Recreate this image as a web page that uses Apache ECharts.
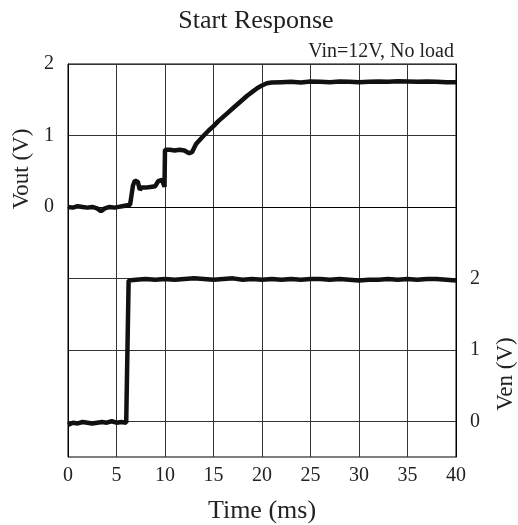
<!DOCTYPE html>
<html>
<head>
<meta charset="utf-8">
<script src="https://cdn.jsdelivr.net/npm/echarts@6/dist/echarts.min.js"></script>
<style>
html,body{margin:0;padding:0;background:#fff;}
#chart{width:518px;height:525px;}
</style>
</head>
<body>
<div id="chart"></div>
<script>
// Time axis ticks (ms)
const timeTicks = [0, 5, 10, 15, 20, 25, 30, 35, 40];
const voutTickLabels = [0, 1, 2];
const venTickLabels = [0, 1, 2];

// Vout trace [time ms, volts]
const voutData = [
  [0,0.00],[0.5,-0.01],[1,0.01],[1.5,0.00],[2,-0.01],[2.5,0.00],[3,-0.02],[3.4,-0.06],[3.8,-0.02],
  [4.3,0.00],[4.8,-0.01],[5.2,0.00],[5.6,0.01],[6.0,0.02],[6.4,0.03],[6.6,0.04],[6.7,0.30],[6.9,0.37],
  [7.2,0.35],[7.4,0.24],[7.6,0.27],[8.0,0.27],[8.5,0.28],[9.0,0.29],[9.3,0.36],[9.7,0.38],[9.85,0.32],
  [9.95,0.28],[10.0,0.80],[10.5,0.80],[11,0.79],[11.5,0.80],[12,0.79],[12.5,0.75],[12.8,0.77],[13.2,0.88],
  [13.6,0.94],[14,1.00],[14.5,1.07],[15,1.13],[15.5,1.20],[16,1.26],[16.5,1.32],[17,1.38],[17.5,1.44],
  [18,1.50],[18.5,1.56],[19,1.61],[19.5,1.66],[20,1.70],[20.5,1.73],[21,1.74],[22,1.745],[23,1.75],
  [24,1.74],[25,1.755],[26,1.75],[27,1.745],[28,1.755],[29,1.75],[30,1.745],[31,1.75],[32,1.755],
  [33,1.75],[34,1.76],[35,1.755],[36,1.75],[37,1.755],[38,1.75],[39,1.745],[40,1.745]
];

// Ven trace [time ms, volts]
const venData = [
  [0,-0.05],[0.5,-0.02],[1,-0.03],[1.5,-0.01],[2,-0.02],[2.5,-0.03],[3,-0.02],[3.5,-0.01],[4,-0.02],
  [4.5,0.00],[5,-0.02],[5.5,-0.01],[6.0,-0.02],[6.2,-0.02],[6.25,1.97],[7,1.98],[8,1.99],[9,1.98],
  [10,1.99],[11,1.98],[12,1.99],[13,2.00],[14,1.99],[15,1.98],[16,1.99],[17,2.00],[18,1.98],[19,1.99],
  [20,1.98],[21,1.99],[22,1.98],[23,1.99],[24,1.98],[25,1.99],[26,1.99],[27,1.98],[28,1.99],[29,1.98],
  [30,1.97],[31,1.98],[32,1.98],[33,1.99],[34,1.98],[35,1.99],[36,1.98],[37,1.99],[38,1.99],[39,1.98],[40,1.97]
];

const FONT = '"Liberation Serif", "Times New Roman", serif';
const chart = echarts.init(document.getElementById('chart'), null, {renderer: 'canvas'});

chart.setOption({
  animation: false,
  backgroundColor: '#fff',
  grid: {left: 68, right: 62, top: 64, bottom: 68, show: true, borderColor: '#000', borderWidth: 1, backgroundColor: 'transparent'},
  xAxis: {
    type: 'value', min: timeTicks[0], max: timeTicks[timeTicks.length - 1], interval: 5,
    axisLine: {show: true, lineStyle: {color: '#000', width: 1}},
    axisTick: {show: false},
    axisLabel: {color: '#222', fontFamily: FONT, fontSize: 20, margin: 9},
    splitLine: {show: true, lineStyle: {color: '#333', width: 1}}
  },
  yAxis: [
    {
      type: 'value', min: -3.5, max: 2, interval: 0.5, position: 'left',
      axisLine: {show: true, lineStyle: {color: '#000', width: 1}},
      axisTick: {show: false},
      axisLabel: {
        color: '#222', fontFamily: FONT, fontSize: 20, margin: 14,
        formatter: v => voutTickLabels.includes(v) ? String(v) : ''
      },
      splitLine: {show: true, lineStyle: {color: ['rgba(0,0,0,0)', '#333'], width: 1}}
    },
    {
      type: 'value', min: -0.5, max: 5, interval: 0.5, position: 'right',
      axisLine: {show: true, lineStyle: {color: '#000', width: 1}},
      axisTick: {show: false},
      axisLabel: {
        color: '#222', fontFamily: FONT, fontSize: 20, margin: 14,
        formatter: v => venTickLabels.includes(v) ? String(v) : ''
      },
      splitLine: {show: false}
    }
  ],
  series: [
    {
      name: 'Vout', type: 'line', yAxisIndex: 0, data: voutData, showSymbol: false,
      lineStyle: {color: '#111', width: 4.5}, z: 5
    },
    {
      name: 'Ven', type: 'line', yAxisIndex: 1, data: venData, showSymbol: false,
      lineStyle: {color: '#111', width: 4.5}, z: 5
    }
  ],
  graphic: [
    {type: 'text', x: 256, y: 21, style: {text: 'Start Response', font: '26px ' + FONT, fill: '#222', textAlign: 'center', textVerticalAlign: 'middle'}},
    {type: 'text', x: 454, y: 52, style: {text: 'Vin=12V, No load', font: '20px ' + FONT, fill: '#222', textAlign: 'right', textVerticalAlign: 'middle'}},
    {type: 'text', x: 262, y: 511, style: {text: 'Time (ms)', font: '26px ' + FONT, fill: '#222', textAlign: 'center', textVerticalAlign: 'middle'}},
    {type: 'text', x: 22, y: 169, rotation: Math.PI / 2, style: {text: 'Vout (V)', font: '23px ' + FONT, fill: '#222', textAlign: 'center', textVerticalAlign: 'middle'}},
    {type: 'text', x: 506, y: 374, rotation: Math.PI / 2, style: {text: 'Ven (V)', font: '23px ' + FONT, fill: '#222', textAlign: 'center', textVerticalAlign: 'middle'}}
  ]
});
</script>
</body>
</html>
